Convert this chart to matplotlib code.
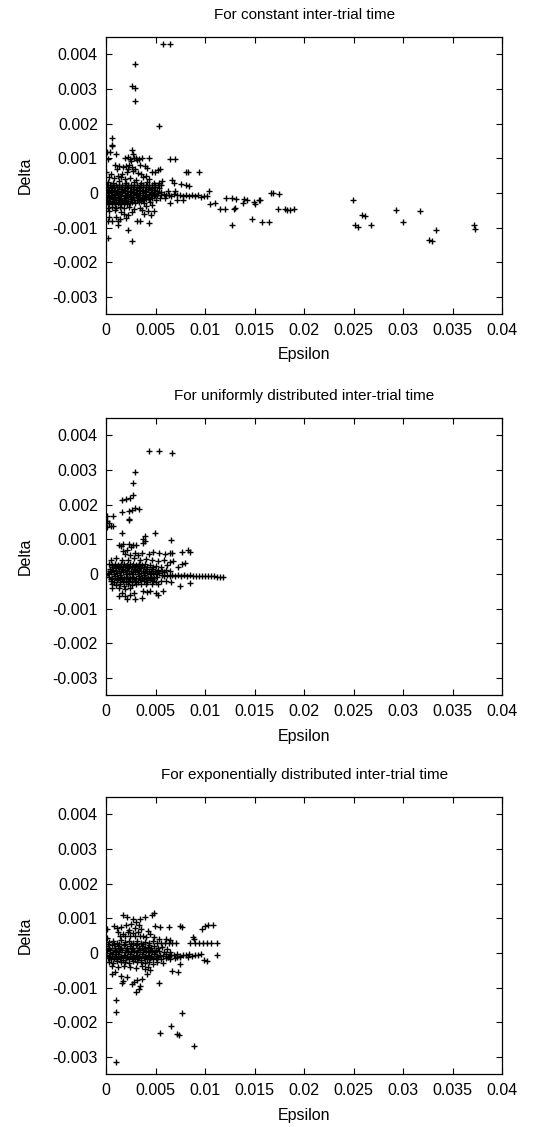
import numpy as np
import matplotlib.pyplot as plt

# values in units of 1e-3 (epsilon, delta)
const_pts = [
    # upper outliers
    (5.7, 4.31), (6.4, 4.31), (2.9, 3.73), (2.6, 3.10), (2.9, 3.04), (2.93, 2.65), (5.35, 1.93),
    (0.57, 1.59), (0.55, 1.38), (0.62, 1.36), (0.1, 1.18), (0.4, 1.18), (1.0, 1.13), (0.2, 0.98),
    (2.6, 1.23), (2.75, 1.12), (6.4, 0.97), (7.0, 0.97),
    (1.9, 1.0), (2.2, 1.03), (2.45, 0.98), (2.8, 1.0), (3.05, 1.02), (3.3, 0.99), (3.6, 1.0),
    (4.35, 1.0), (2.5, 0.92), (3.15, 0.94),
    (0.9, 0.8), (1.35, 0.78), (1.7, 0.76), (2.0, 0.79), (2.3, 0.81), (2.6, 0.74), (3.4, 0.8),
    (3.9, 0.77), (4.1, 0.71), (2.95, 0.69), (2.2, 0.7), (1.1, 0.68),
    (0.0, 0.6), (0.45, 0.55), (1.2, 0.5), (1.6, 0.56), (2.1, 0.6), (2.7, 0.63), (3.2, 0.57),
    (3.5, 0.54), (4.0, 0.5), (4.6, 0.62), (4.9, 0.6), (5.2, 0.65), (5.45, 0.68),
    (8.1, 0.6), (8.3, 0.6), (9.4, 0.6),
    (0.3, 0.45), (0.8, 0.42), (1.5, 0.46), (1.9, 0.4), (2.4, 0.43), (3.0, 0.38), (3.7, 0.45),
    (4.3, 0.4), (5.6, 0.35), (6.7, 0.37), (6.9, 0.3), (7.6, 0.27), (8.1, 0.22), (8.35, 0.2),
    (0.2, 0.33), (0.7, 0.3), (1.3, 0.35), (2.0, 0.3), (2.8, 0.32), (3.5, 0.3), (4.1, 0.33),
    (4.8, 0.28), (5.3, 0.3),
    # grey line of overlapping points
    (0.1, 0.22), (0.4, 0.22), (0.7, 0.22), (1.0, 0.22), (1.3, 0.22), (1.6, 0.22), (1.9, 0.22),
    (2.2, 0.22), (2.5, 0.22), (2.8, 0.22), (3.1, 0.22), (3.4, 0.22), (3.7, 0.22), (4.0, 0.22),
    (4.3, 0.22), (4.6, 0.22), (4.9, 0.22), (5.2, 0.22), (5.5, 0.22),
    # dense band
    (0.0, 0.12), (0.3, 0.08), (0.6, 0.15), (0.9, 0.1), (1.2, 0.05), (1.5, 0.13), (1.8, 0.09),
    (2.1, 0.14), (2.4, 0.06), (2.7, 0.11), (3.0, 0.08), (3.3, 0.15), (3.6, 0.1), (3.9, 0.05),
    (4.2, 0.12), (4.5, 0.08), (4.8, 0.1), (5.1, 0.05),
    (0.15, 0.17), (0.45, 0.16), (0.75, 0.18), (1.05, 0.16), (1.35, 0.17), (1.65, 0.18),
    (1.95, 0.16), (2.25, 0.17), (2.55, 0.16), (2.85, 0.18), (3.15, 0.17), (3.45, 0.16),
    (3.75, 0.18), (4.05, 0.16), (4.35, 0.17), (4.65, 0.15), (4.95, 0.16), (5.3, 0.15),
    (0.15, 0.0), (0.45, 0.02), (0.75, -0.02), (1.05, 0.01), (1.35, -0.03), (1.65, 0.03),
    (1.95, 0.0), (2.25, -0.02), (2.55, 0.02), (2.85, 0.0), (3.15, -0.03), (3.45, 0.01),
    (3.75, -0.01), (4.05, 0.02), (4.35, -0.02), (4.65, 0.0), (4.95, -0.03), (5.25, 0.0),
    (0.0, 0.05), (0.3, 0.04), (0.6, 0.06), (0.9, 0.04), (1.5, 0.05), (2.1, 0.05), (2.7, 0.04),
    (3.3, 0.05), (3.9, 0.06), (4.5, 0.04), (5.5, 0.03),
    (0.0, -0.1), (0.3, -0.08), (0.6, -0.12), (0.9, -0.07), (1.2, -0.11), (1.5, -0.09),
    (1.8, -0.13), (2.1, -0.08), (2.4, -0.1), (2.7, -0.12), (3.0, -0.07), (3.3, -0.1),
    (3.6, -0.12), (3.9, -0.08), (4.2, -0.1), (4.5, -0.06), (4.8, -0.08), (5.1, -0.06),
    (0.15, -0.05), (0.75, -0.06), (1.35, -0.05), (1.95, -0.06), (2.55, -0.05), (3.15, -0.06),
    (3.75, -0.05), (4.35, -0.05), (4.95, -0.05),
    (0.1, -0.2), (0.4, -0.22), (0.7, -0.18), (1.0, -0.21), (1.3, -0.2), (1.6, -0.23),
    (1.9, -0.19), (2.2, -0.22), (2.5, -0.18), (2.8, -0.21), (3.1, -0.2), (3.4, -0.17),
    (3.7, -0.2), (4.0, -0.16), (4.3, -0.18),
    (0.25, -0.15), (0.85, -0.15), (1.45, -0.16), (2.05, -0.15), (2.65, -0.16), (3.25, -0.14),
    (3.85, -0.15), (4.6, -0.14),
    (0.0, -0.3), (0.3, -0.32), (0.6, -0.29), (0.9, -0.33), (1.2, -0.3), (1.5, -0.31),
    (1.8, -0.28), (2.1, -0.32), (2.4, -0.3), (2.9, -0.3), (3.3, -0.27), (3.8, -0.28), (4.4, -0.26),
    (0.15, -0.25), (0.75, -0.26), (1.35, -0.25), (1.95, -0.26), (2.65, -0.25), (3.55, -0.24),
    (0.2, -0.42), (0.6, -0.4), (1.0, -0.43), (1.4, -0.4), (1.8, -0.42), (2.3, -0.41),
    (2.8, -0.45), (3.4, -0.43), (4.0, -0.38), (4.6, -0.35),
    (0.3, -0.52), (0.9, -0.5), (1.5, -0.55), (2.6, -0.55), (3.6, -0.5), (4.2, -0.53), (4.8, -0.52),
    (4.5, -0.62), (1.8, -0.6), (3.8, -0.6), (2.2, -0.64), (0.3, -0.7), (1.0, -0.68),
    (0.2, -0.8), (0.6, -0.8), (1.2, -0.82), (1.2, -0.92), (1.4, -0.75), (2.0, -0.72),
    (3.1, -0.8), (3.4, -0.8), (4.3, -0.85), (2.25, -1.06), (0.17, -1.29), (2.6, -1.37),
    # tail
    (5.5, -0.05), (5.8, -0.03), (6.0, -0.07), (6.3, -0.05), (6.6, -0.08), (6.9, -0.04),
    (7.2, -0.06), (7.5, -0.05), (7.8, -0.09), (8.1, -0.06), (8.4, -0.08), (8.7, -0.05),
    (9.0, -0.09), (9.3, -0.07), (9.6, -0.1), (9.9, -0.08), (6.5, -0.3), (7.2, -0.2),
    (7.8, -0.2), (5.9, -0.15), (6.2, 0.05), (7.0, 0.05), (5.4, -0.15), (5.0, -0.2),
    (10.4, 0.05), (10.2, -0.09), (10.5, -0.33), (11.0, -0.3),
    (11.5, -0.45), (12.0, -0.45), (12.9, -0.45), (13.0, -0.42), (12.1, -0.13), (12.7, -0.13),
    (13.1, -0.16), (13.9, -0.16), (14.2, -0.2), (13.8, -0.29), (14.9, -0.26), (15.0, -0.33),
    (15.4, -0.2), (15.5, -0.2), (12.7, -0.93), (14.7, -0.74), (15.7, -0.84), (16.4, -0.84),
    (16.6, 0.0), (16.9, 0.0), (17.5, -0.02), (17.4, -0.45), (18.1, -0.45), (18.3, -0.48),
    (18.6, -0.48), (19.0, -0.46),
    (24.9, -0.19), (25.1, -0.93), (25.4, -0.98), (25.8, -0.64), (26.1, -0.67), (26.7, -0.93),
    (29.3, -0.48), (30.0, -0.84), (31.7, -0.52), (32.6, -1.35), (32.9, -1.37), (33.3, -1.06),
    (37.1, -0.91), (37.3, -1.03),
]

uniform_pts = [
    (4.34, 3.56), (5.35, 3.54), (6.63, 3.49), (2.96, 2.94), (2.7, 2.63), (2.7, 2.27),
    (2.42, 2.2), (2.02, 2.17), (1.58, 2.15), (2.93, 1.9), (2.6, 1.86), (2.26, 1.81),
    (1.58, 1.78), (3.37, 1.89), (2.26, 1.59), (2.32, 1.55), (0.07, 1.67), (0.67, 1.67),
    (0.07, 1.53), (0.24, 1.46), (0.5, 1.4), (0.67, 1.38), (0.1, 1.35), (1.65, 1.19),
    (4.95, 1.19), (3.9, 1.11), (3.77, 1.0), (6.53, 0.98), (7.64, 0.64), (8.3, 0.68), (8.5, 0.64),
    (1.25, 0.84), (1.75, 0.87), (2.26, 0.86), (2.76, 0.84), (2.1, 0.7), (1.75, 0.66),
    (1.5, 0.8), (2.5, 0.78), (3.0, 0.85), (3.7, 0.9), (3.9, 0.95),
    (2.93, 0.6), (3.6, 0.62), (4.3, 0.58), (4.78, 0.63), (5.38, 0.6), (5.95, 0.58), (6.45, 0.6),
    (6.7, 0.62), (8.0, 0.33), (2.4, 0.55), (1.9, 0.58), (3.2, 0.55),
    (0.5, 0.42), (1.0, 0.45), (1.6, 0.4), (2.2, 0.42), (2.8, 0.46), (3.4, 0.4), (4.0, 0.44),
    (4.6, 0.42), (5.2, 0.38), (5.8, 0.4), (6.4, 0.35), (6.8, 0.38), (7.7, 0.3),
    # band near 0.28
    (0.3, 0.28), (0.6, 0.27), (0.9, 0.28), (1.2, 0.27), (1.5, 0.28), (1.8, 0.28), (2.1, 0.27),
    (2.4, 0.28), (2.7, 0.28), (3.0, 0.27), (3.3, 0.28), (3.6, 0.27), (3.9, 0.28), (4.4, 0.25),
    (5.0, 0.22), (5.5, 0.2), (6.1, 0.25), (7.3, 0.2),
    # dense core
    (0.4, 0.15), (0.7, 0.12), (1.0, 0.18), (1.3, 0.1), (1.6, 0.16), (1.9, 0.12), (2.2, 0.18),
    (2.5, 0.1), (2.8, 0.15), (3.1, 0.12), (3.4, 0.17), (3.7, 0.1), (4.0, 0.14), (4.3, 0.1),
    (4.6, 0.15), (4.9, 0.1), (5.2, 0.12), (5.6, 0.1), (6.0, 0.12), (6.5, 0.08),
    (0.55, 0.21), (0.85, 0.22), (1.15, 0.2), (1.45, 0.22), (1.75, 0.21), (2.05, 0.22),
    (2.35, 0.2), (2.65, 0.22), (2.95, 0.21), (3.25, 0.22), (3.55, 0.2), (3.85, 0.21),
    (4.15, 0.2), (4.75, 0.2),
    (0.0, -0.02), (0.2, 0.03), (0.5, 0.05), (0.8, 0.0), (1.1, 0.04), (1.4, -0.02), (1.7, 0.05),
    (2.0, 0.0), (2.3, 0.04), (2.6, -0.01), (2.9, 0.05), (3.2, 0.0), (3.5, 0.04), (3.8, -0.02),
    (4.1, 0.03), (4.4, 0.0), (4.7, 0.04), (5.0, -0.01), (5.3, 0.02), (5.6, -0.02),
    (0.35, 0.08), (0.95, 0.08), (1.55, 0.08), (2.15, 0.09), (2.75, 0.08), (3.35, 0.08),
    (3.95, 0.07), (4.55, 0.08), (5.15, 0.07), (5.8, 0.05),
    (0.3, -0.08), (0.6, -0.1), (0.9, -0.06), (1.2, -0.12), (1.5, -0.08), (1.8, -0.1),
    (2.1, -0.07), (2.4, -0.12), (2.7, -0.08), (3.0, -0.1), (3.3, -0.06), (3.6, -0.11),
    (3.9, -0.08), (4.2, -0.1), (4.5, -0.07), (4.8, -0.1), (5.1, -0.08),
    (0.45, -0.14), (1.05, -0.15), (1.65, -0.14), (2.25, -0.15), (2.85, -0.14), (3.45, -0.15),
    (4.05, -0.14), (4.65, -0.15),
    (0.5, -0.2), (0.8, -0.22), (1.1, -0.18), (1.4, -0.22), (1.7, -0.2), (2.0, -0.24),
    (2.3, -0.19), (2.6, -0.22), (2.9, -0.2), (3.2, -0.23), (3.5, -0.18), (3.8, -0.2),
    (4.1, -0.22), (4.4, -0.18), (4.7, -0.2), (5.0, -0.22), (5.5, -0.2), (6.0, -0.2), (6.6, -0.22),
    (0.6, -0.3), (1.0, -0.32), (1.4, -0.3), (1.8, -0.33), (2.2, -0.3), (2.6, -0.32),
    (3.0, -0.3), (3.5, -0.28), (4.0, -0.3), (4.6, -0.28), (5.2, -0.3),
    (0.57, -0.39), (1.25, -0.4), (1.9, -0.42), (2.4, -0.4), (7.47, -0.33), (8.48, -0.25),
    (1.25, -0.63), (1.92, -0.63), (2.09, -0.71), (2.93, -0.73), (3.6, -0.68), (2.4, -0.6),
    (1.6, -0.55), (2.8, -0.55), (3.77, -0.5), (4.1, -0.52), (4.4, -0.5), (5.0, -0.55),
    (5.2, -0.6), (5.7, -0.5),
    # tail
    (5.8, -0.05), (6.1, -0.04), (6.4, -0.05), (6.7, -0.04), (7.0, -0.05), (7.3, -0.04),
    (7.6, -0.05), (7.9, -0.04), (8.2, -0.05), (8.5, -0.04), (8.8, -0.05), (9.1, -0.05),
    (9.4, -0.05), (9.7, -0.05), (10.0, -0.06), (10.3, -0.06), (10.6, -0.06), (10.9, -0.06),
    (11.2, -0.07), (11.5, -0.07), (11.85, -0.08),
]

expo_pts = [
    (1.0, -3.15), (1.04, -1.69), (1.04, -1.34), (5.39, -2.30), (6.57, -2.09), (7.14, -2.33),
    (7.37, -2.35), (7.64, -1.74), (8.92, -2.69), (5.29, -0.87),
    (3.03, -1.13), (3.27, -1.04), (3.43, -0.94), (2.8, -0.82), (2.6, -0.88), (3.1, -0.78),
    (3.6, -0.74), (1.58, -0.87), (1.68, -0.8), (0.57, -0.6), (0.9, -0.55), (1.5, -0.65),
    (2.1, -0.7), (6.63, -0.51), (7.3, -0.54), (7.47, -0.32), (10.2, -0.22), (11.2, -0.05),
    (11.2, 0.29), (4.1, -0.6), (4.4, -0.5), (3.9, -0.45),
    (1.7, 1.09), (2.1, 1.03), (2.7, 0.98), (3.4, 0.98), (3.9, 1.05), (4.6, 1.09), (4.85, 1.17),
    (4.95, 0.79), (5.45, 0.74), (6.3, 0.74), (7.47, 0.77), (7.64, 0.74),
    (9.67, 0.69), (10.0, 0.79), (10.3, 0.81), (10.8, 0.81), (8.8, 0.47), (8.9, 0.4),
    (0.84, 0.79), (1.08, 0.72), (0.07, 0.69), (0.07, 0.44),
    (1.5, 0.75), (2.0, 0.8), (2.5, 0.85), (3.0, 0.9), (3.3, 0.82), (2.3, 0.68), (2.9, 0.72),
    (3.5, 0.7), (4.2, 0.65), (4.4, 0.55), (1.2, 0.6), (1.7, 0.56), (2.2, 0.6), (2.7, 0.58),
    (3.2, 0.6), (3.7, 0.5), (4.8, 0.45), (5.3, 0.4), (6.0, 0.42), (6.5, 0.38),
    (1.45, 0.5), (1.95, 0.48), (2.45, 0.5), (2.95, 0.48), (3.45, 0.5), (4.0, 0.46),
    # band near 0.3
    (0.3, 0.32), (0.7, 0.35), (1.1, 0.3), (1.5, 0.38), (1.9, 0.32), (2.3, 0.36), (2.7, 0.3),
    (3.1, 0.35), (3.5, 0.3), (3.9, 0.33), (4.3, 0.3), (4.7, 0.35), (5.1, 0.3), (5.5, 0.3),
    (5.9, 0.29), (6.3, 0.3), (6.7, 0.29), (7.1, 0.3), (8.5, 0.29), (9.0, 0.29),
    (9.4, 0.29), (9.8, 0.29), (10.2, 0.29), (10.6, 0.29),
    # dense core
    (0.0, 0.2), (0.3, 0.15), (0.6, 0.22), (0.9, 0.14), (1.2, 0.2), (1.5, 0.16), (1.8, 0.22),
    (2.1, 0.14), (2.4, 0.2), (2.7, 0.15), (3.0, 0.22), (3.3, 0.16), (3.6, 0.2), (3.9, 0.14),
    (4.2, 0.18), (4.5, 0.14), (4.8, 0.2), (5.2, 0.15), (5.6, 0.18), (6.1, 0.12),
    (0.15, 0.26), (0.75, 0.25), (1.35, 0.26), (1.95, 0.25), (2.55, 0.26), (3.15, 0.25),
    (3.75, 0.26), (4.35, 0.24),
    (0.1, 0.05), (0.4, 0.08), (0.7, 0.03), (1.0, 0.07), (1.3, 0.02), (1.6, 0.08), (1.9, 0.04),
    (2.2, 0.07), (2.5, 0.02), (2.8, 0.06), (3.1, 0.03), (3.4, 0.08), (3.7, 0.03), (4.0, 0.06),
    (4.3, 0.02), (4.6, 0.06), (4.9, 0.03), (5.3, 0.05), (5.8, 0.03), (6.4, 0.04),
    (0.25, 0.11), (0.85, 0.1), (1.45, 0.11), (2.05, 0.1), (2.65, 0.11), (3.25, 0.1),
    (3.85, 0.11), (4.45, 0.1), (5.05, 0.1),
    (0.0, -0.05), (0.3, -0.08), (0.6, -0.03), (0.9, -0.07), (1.2, -0.04), (1.5, -0.09),
    (1.8, -0.05), (2.1, -0.08), (2.4, -0.03), (2.7, -0.07), (3.0, -0.05), (3.3, -0.09),
    (3.6, -0.04), (3.9, -0.07), (4.2, -0.05), (4.5, -0.08), (4.8, -0.04), (5.1, -0.07),
    (5.4, -0.05), (5.7, -0.08), (6.0, -0.04), (6.3, -0.07), (6.6, -0.05), (6.9, -0.06),
    (7.2, -0.04), (7.5, -0.07), (7.8, -0.05), (8.1, -0.06), (8.4, -0.04), (8.7, -0.07),
    (9.0, -0.05), (9.3, -0.06), (9.6, -0.04), (9.9, -0.2),
    (0.2, -0.15), (0.5, -0.18), (0.8, -0.13), (1.1, -0.17), (1.4, -0.14), (1.7, -0.19),
    (2.0, -0.15), (2.3, -0.18), (2.6, -0.13), (2.9, -0.17), (3.2, -0.15), (3.5, -0.19),
    (3.8, -0.14), (4.1, -0.17), (4.4, -0.15), (4.7, -0.18), (5.0, -0.14), (5.5, -0.16),
    (6.0, -0.15), (6.5, -0.16), (7.0, -0.14), (7.5, -0.12),
    (0.35, -0.11), (0.95, -0.1), (1.55, -0.11), (2.15, -0.1), (2.75, -0.11), (3.35, -0.1),
    (3.95, -0.11), (4.55, -0.1), (5.25, -0.1), (6.2, -0.1), (7.2, -0.1), (8.3, -0.1),
    (0.3, -0.25), (0.7, -0.28), (1.1, -0.24), (1.5, -0.27), (1.9, -0.25), (2.3, -0.28),
    (2.7, -0.24), (3.1, -0.27), (3.5, -0.25), (3.9, -0.3), (4.3, -0.26), (4.7, -0.32),
    (5.1, -0.25), (5.7, -0.28),
    (0.6, -0.38), (1.2, -0.4), (1.8, -0.36), (2.4, -0.4), (3.0, -0.42), (3.6, -0.38), (4.2, -0.4),
]

titles = [
    "For constant inter-trial time",
    "For uniformly distributed inter-trial time",
    "For exponentially distributed inter-trial time",
]
panels = [const_pts, uniform_pts, expo_pts]
xticks = [0, 0.005, 0.01, 0.015, 0.02, 0.025, 0.03, 0.035, 0.04]
xtick_labels = ["0", "0.005", "0.01", "0.015", "0.02", "0.025", "0.03", "0.035", "0.04"]
yticks = [-0.003, -0.002, -0.001, 0, 0.001, 0.002, 0.003, 0.004]
ytick_labels = ["-0.003", "-0.002", "-0.001", "0", "0.001", "0.002", "0.003", "0.004"]

plt.rcParams['font.family'] = ['Liberation Sans', 'DejaVu Sans']

fig = plt.figure(figsize=(5.36, 11.27), dpi=100)
tops = [0.9672, 0.6291, 0.2928]
height = 0.2462

for top, pts, title in zip(tops, panels, titles):
    ax = fig.add_axes([0.198, top - height, 0.739, height])
    arr = np.array(pts) * 1e-3
    eps, delta = arr[:, 0], arr[:, 1]
    ax.plot(eps, delta, '+', color='black', markersize=5, markeredgewidth=1.0)
    ax.set_xlim(0, 0.04)
    ax.set_ylim(-0.0035, 0.0045)
    ax.set_xticks(xticks)
    ax.set_xticklabels(xtick_labels)
    ax.set_yticks(yticks)
    ax.set_yticklabels(ytick_labels)
    ax.tick_params(direction='in', top=True, right=True, length=4, width=0.8,
                   labelsize=11.5, pad=6)
    for s in ax.spines.values():
        s.set_linewidth(0.9)
    ax.set_xlabel("Epsilon", fontsize=11.5, labelpad=7)
    ax.set_ylabel("Delta", fontsize=11.5, labelpad=14)
    ax.set_title(title, fontsize=11, pad=13)

fig.savefig("out.png", dpi=100)
